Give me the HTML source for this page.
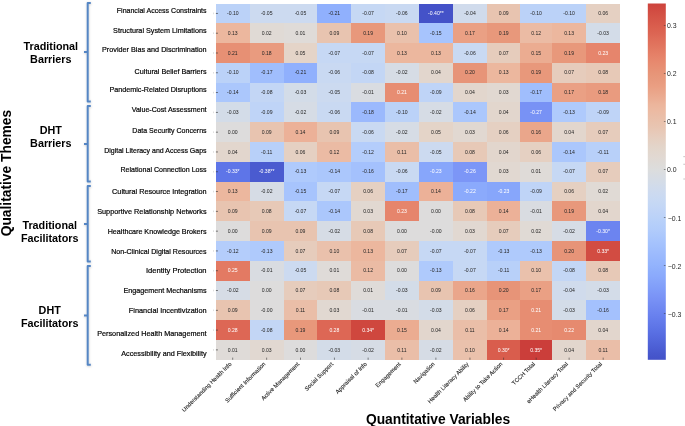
<!DOCTYPE html>
<html><head><meta charset="utf-8"><style>
html,body{margin:0;padding:0;background:#fff;width:685px;height:426px;overflow:hidden}
svg{display:block;will-change:transform}
text{font-family:"Liberation Sans",sans-serif}
</style></head><body>
<svg width="685" height="426" viewBox="0 0 685 426">
<defs>
<linearGradient id="cb" x1="0" y1="1" x2="0" y2="0">
<stop offset="0.0000" stop-color="#4452c8"/>
<stop offset="0.0167" stop-color="#4757cd"/>
<stop offset="0.0333" stop-color="#4c5ed4"/>
<stop offset="0.0500" stop-color="#5165da"/>
<stop offset="0.0667" stop-color="#566be0"/>
<stop offset="0.0833" stop-color="#5b72e5"/>
<stop offset="0.1000" stop-color="#6178e9"/>
<stop offset="0.1167" stop-color="#667eed"/>
<stop offset="0.1333" stop-color="#6c84f0"/>
<stop offset="0.1500" stop-color="#718af2"/>
<stop offset="0.1667" stop-color="#7790f5"/>
<stop offset="0.1833" stop-color="#7c96f7"/>
<stop offset="0.2000" stop-color="#809df9"/>
<stop offset="0.2167" stop-color="#85a3fa"/>
<stop offset="0.2333" stop-color="#8aa9fc"/>
<stop offset="0.2500" stop-color="#8eaefc"/>
<stop offset="0.2667" stop-color="#93b3fd"/>
<stop offset="0.2833" stop-color="#98b7fd"/>
<stop offset="0.3000" stop-color="#9dbbfd"/>
<stop offset="0.3167" stop-color="#a2c0fd"/>
<stop offset="0.3333" stop-color="#a7c4fd"/>
<stop offset="0.3500" stop-color="#acc8fc"/>
<stop offset="0.3667" stop-color="#b2ccfb"/>
<stop offset="0.3833" stop-color="#b6cffa"/>
<stop offset="0.4000" stop-color="#bbd2f8"/>
<stop offset="0.4167" stop-color="#c0d4f7"/>
<stop offset="0.4333" stop-color="#c4d7f5"/>
<stop offset="0.4500" stop-color="#c8d9f3"/>
<stop offset="0.4667" stop-color="#ccdaf0"/>
<stop offset="0.4833" stop-color="#d0dbec"/>
<stop offset="0.5000" stop-color="#d4dce7"/>
<stop offset="0.5167" stop-color="#d8dce2"/>
<stop offset="0.5333" stop-color="#dcdddd"/>
<stop offset="0.5500" stop-color="#dedbd8"/>
<stop offset="0.5667" stop-color="#e1d9d3"/>
<stop offset="0.5833" stop-color="#e2d7ce"/>
<stop offset="0.6000" stop-color="#e3d4c9"/>
<stop offset="0.6167" stop-color="#e5d0c2"/>
<stop offset="0.6333" stop-color="#e7cbbb"/>
<stop offset="0.6500" stop-color="#e8c6b3"/>
<stop offset="0.6667" stop-color="#e9c2ad"/>
<stop offset="0.6833" stop-color="#eabea8"/>
<stop offset="0.7000" stop-color="#ecbaa2"/>
<stop offset="0.7167" stop-color="#ecb59c"/>
<stop offset="0.7333" stop-color="#ebad93"/>
<stop offset="0.7500" stop-color="#eaa68b"/>
<stop offset="0.7667" stop-color="#ea9f83"/>
<stop offset="0.7833" stop-color="#e89a7e"/>
<stop offset="0.8000" stop-color="#e79679"/>
<stop offset="0.8167" stop-color="#e79074"/>
<stop offset="0.8333" stop-color="#e78a6f"/>
<stop offset="0.8500" stop-color="#e6836a"/>
<stop offset="0.8667" stop-color="#e47c64"/>
<stop offset="0.8833" stop-color="#e1745e"/>
<stop offset="0.9000" stop-color="#df6d59"/>
<stop offset="0.9167" stop-color="#dc6553"/>
<stop offset="0.9333" stop-color="#da5f4e"/>
<stop offset="0.9500" stop-color="#d7584a"/>
<stop offset="0.9667" stop-color="#d45245"/>
<stop offset="0.9833" stop-color="#d14a41"/>
<stop offset="1.0000" stop-color="#cd433c"/>
</linearGradient>
<filter id="sh" x="-50%" y="-10%" width="200%" height="120%"><feDropShadow dx="0.2" dy="0.6" stdDeviation="0.9" flood-color="#000" flood-opacity="0.22"/></filter>
</defs>
<g shape-rendering="crispEdges">
<rect x="215.60" y="3.50" width="34.70" height="20.19" fill="#bbd2f8"/>
<rect x="249.90" y="3.50" width="34.00" height="20.19" fill="#ccdaf0"/>
<rect x="283.50" y="3.50" width="34.30" height="20.19" fill="#ccdaf0"/>
<rect x="317.40" y="3.50" width="34.30" height="20.19" fill="#90b0fd"/>
<rect x="351.30" y="3.50" width="34.00" height="20.19" fill="#c6d8f4"/>
<rect x="384.90" y="3.50" width="34.40" height="20.19" fill="#c9d9f2"/>
<rect x="418.90" y="3.50" width="34.40" height="20.19" fill="#4452c8"/>
<rect x="452.90" y="3.50" width="34.50" height="20.19" fill="#d0dbec"/>
<rect x="487.00" y="3.50" width="33.70" height="20.19" fill="#e8c4b0"/>
<rect x="520.30" y="3.50" width="32.10" height="20.19" fill="#bbd2f8"/>
<rect x="552.00" y="3.50" width="34.60" height="20.19" fill="#bbd2f8"/>
<rect x="586.20" y="3.50" width="33.90" height="20.19" fill="#e5d0c2"/>
<rect x="215.60" y="23.29" width="34.70" height="20.19" fill="#ecb79e"/>
<rect x="249.90" y="23.29" width="34.00" height="20.19" fill="#e0dad5"/>
<rect x="283.50" y="23.29" width="34.30" height="20.19" fill="#dfdbd8"/>
<rect x="317.40" y="23.29" width="34.30" height="20.19" fill="#e8c4b0"/>
<rect x="351.30" y="23.29" width="34.00" height="20.19" fill="#e8987b"/>
<rect x="384.90" y="23.29" width="34.40" height="20.19" fill="#eac1ac"/>
<rect x="418.90" y="23.29" width="34.40" height="20.19" fill="#a7c4fd"/>
<rect x="452.90" y="23.29" width="34.50" height="20.19" fill="#eaa084"/>
<rect x="487.00" y="23.29" width="33.70" height="20.19" fill="#e8987b"/>
<rect x="520.30" y="23.29" width="32.10" height="20.19" fill="#ebbba4"/>
<rect x="552.00" y="23.29" width="34.60" height="20.19" fill="#ecb79e"/>
<rect x="586.20" y="23.29" width="33.90" height="20.19" fill="#d3dce8"/>
<rect x="215.60" y="43.09" width="34.70" height="20.19" fill="#e79074"/>
<rect x="249.90" y="43.09" width="34.00" height="20.19" fill="#e99b7f"/>
<rect x="283.50" y="43.09" width="34.30" height="20.19" fill="#e4d4c8"/>
<rect x="317.40" y="43.09" width="34.30" height="20.19" fill="#c6d8f4"/>
<rect x="351.30" y="43.09" width="34.00" height="20.19" fill="#c6d8f4"/>
<rect x="384.90" y="43.09" width="34.40" height="20.19" fill="#ecb79e"/>
<rect x="418.90" y="43.09" width="34.40" height="20.19" fill="#ecb79e"/>
<rect x="452.90" y="43.09" width="34.50" height="20.19" fill="#c9d9f2"/>
<rect x="487.00" y="43.09" width="33.70" height="20.19" fill="#e6ccbc"/>
<rect x="520.30" y="43.09" width="32.10" height="20.19" fill="#ebac91"/>
<rect x="552.00" y="43.09" width="34.60" height="20.19" fill="#e8987b"/>
<rect x="586.20" y="43.09" width="33.90" height="20.19" fill="#e6856c"/>
<rect x="215.60" y="62.88" width="34.70" height="20.19" fill="#bbd2f8"/>
<rect x="249.90" y="62.88" width="34.00" height="20.19" fill="#a0befd"/>
<rect x="283.50" y="62.88" width="34.30" height="20.19" fill="#90b0fd"/>
<rect x="317.40" y="62.88" width="34.30" height="20.19" fill="#c9d9f2"/>
<rect x="351.30" y="62.88" width="34.00" height="20.19" fill="#c3d6f5"/>
<rect x="384.90" y="62.88" width="34.40" height="20.19" fill="#d6dce5"/>
<rect x="418.90" y="62.88" width="34.40" height="20.19" fill="#e2d6cd"/>
<rect x="452.90" y="62.88" width="34.50" height="20.19" fill="#e79478"/>
<rect x="487.00" y="62.88" width="33.70" height="20.19" fill="#ecb79e"/>
<rect x="520.30" y="62.88" width="32.10" height="20.19" fill="#e8987b"/>
<rect x="552.00" y="62.88" width="34.60" height="20.19" fill="#e6ccbc"/>
<rect x="586.20" y="62.88" width="33.90" height="20.19" fill="#e7c9b7"/>
<rect x="215.60" y="82.68" width="34.70" height="20.19" fill="#abc7fc"/>
<rect x="249.90" y="82.68" width="34.00" height="20.19" fill="#c3d6f5"/>
<rect x="283.50" y="82.68" width="34.30" height="20.19" fill="#d3dce8"/>
<rect x="317.40" y="82.68" width="34.30" height="20.19" fill="#ccdaf0"/>
<rect x="351.30" y="82.68" width="34.00" height="20.19" fill="#d9dce1"/>
<rect x="384.90" y="82.68" width="34.40" height="20.19" fill="#e78d72"/>
<rect x="418.90" y="82.68" width="34.40" height="20.19" fill="#bfd4f7"/>
<rect x="452.90" y="82.68" width="34.50" height="20.19" fill="#e2d6cd"/>
<rect x="487.00" y="82.68" width="33.70" height="20.19" fill="#e1d8d1"/>
<rect x="520.30" y="82.68" width="32.10" height="20.19" fill="#a0befd"/>
<rect x="552.00" y="82.68" width="34.60" height="20.19" fill="#eaa084"/>
<rect x="586.20" y="82.68" width="33.90" height="20.19" fill="#e99b7f"/>
<rect x="215.60" y="102.47" width="34.70" height="20.19" fill="#d3dce8"/>
<rect x="249.90" y="102.47" width="34.00" height="20.19" fill="#bfd4f7"/>
<rect x="283.50" y="102.47" width="34.30" height="20.19" fill="#d6dce5"/>
<rect x="317.40" y="102.47" width="34.30" height="20.19" fill="#c9d9f2"/>
<rect x="351.30" y="102.47" width="34.00" height="20.19" fill="#9bb9fd"/>
<rect x="384.90" y="102.47" width="34.40" height="20.19" fill="#bbd2f8"/>
<rect x="418.90" y="102.47" width="34.40" height="20.19" fill="#d6dce5"/>
<rect x="452.90" y="102.47" width="34.50" height="20.19" fill="#abc7fc"/>
<rect x="487.00" y="102.47" width="33.70" height="20.19" fill="#e2d6cd"/>
<rect x="520.30" y="102.47" width="32.10" height="20.19" fill="#7892f5"/>
<rect x="552.00" y="102.47" width="34.60" height="20.19" fill="#afcafc"/>
<rect x="586.20" y="102.47" width="33.90" height="20.19" fill="#bfd4f7"/>
<rect x="215.60" y="122.27" width="34.70" height="20.19" fill="#dddcdc"/>
<rect x="249.90" y="122.27" width="34.00" height="20.19" fill="#e8c4b0"/>
<rect x="283.50" y="122.27" width="34.30" height="20.19" fill="#ecb198"/>
<rect x="317.40" y="122.27" width="34.30" height="20.19" fill="#e8c4b0"/>
<rect x="351.30" y="122.27" width="34.00" height="20.19" fill="#c9d9f2"/>
<rect x="384.90" y="122.27" width="34.40" height="20.19" fill="#d6dce5"/>
<rect x="418.90" y="122.27" width="34.40" height="20.19" fill="#e4d4c8"/>
<rect x="452.90" y="122.27" width="34.50" height="20.19" fill="#e1d8d1"/>
<rect x="487.00" y="122.27" width="33.70" height="20.19" fill="#e5d0c2"/>
<rect x="520.30" y="122.27" width="32.10" height="20.19" fill="#eaa68b"/>
<rect x="552.00" y="122.27" width="34.60" height="20.19" fill="#e2d6cd"/>
<rect x="586.20" y="122.27" width="33.90" height="20.19" fill="#e6ccbc"/>
<rect x="215.60" y="142.06" width="34.70" height="20.19" fill="#e2d6cd"/>
<rect x="249.90" y="142.06" width="34.00" height="20.19" fill="#b8d0f9"/>
<rect x="283.50" y="142.06" width="34.30" height="20.19" fill="#e5d0c2"/>
<rect x="317.40" y="142.06" width="34.30" height="20.19" fill="#ebbba4"/>
<rect x="351.30" y="142.06" width="34.00" height="20.19" fill="#b4cdfb"/>
<rect x="384.90" y="142.06" width="34.40" height="20.19" fill="#eabea8"/>
<rect x="418.90" y="142.06" width="34.40" height="20.19" fill="#ccdaf0"/>
<rect x="452.90" y="142.06" width="34.50" height="20.19" fill="#e7c9b7"/>
<rect x="487.00" y="142.06" width="33.70" height="20.19" fill="#e2d6cd"/>
<rect x="520.30" y="142.06" width="32.10" height="20.19" fill="#e5d0c2"/>
<rect x="552.00" y="142.06" width="34.60" height="20.19" fill="#abc7fc"/>
<rect x="586.20" y="142.06" width="33.90" height="20.19" fill="#b8d0f9"/>
<rect x="215.60" y="161.86" width="34.70" height="20.19" fill="#5e75e8"/>
<rect x="249.90" y="161.86" width="34.00" height="20.19" fill="#4a5bd0"/>
<rect x="283.50" y="161.86" width="34.30" height="20.19" fill="#afcafc"/>
<rect x="317.40" y="161.86" width="34.30" height="20.19" fill="#abc7fc"/>
<rect x="351.30" y="161.86" width="34.00" height="20.19" fill="#a4c1fd"/>
<rect x="384.90" y="161.86" width="34.40" height="20.19" fill="#c9d9f2"/>
<rect x="418.90" y="161.86" width="34.40" height="20.19" fill="#87a6fb"/>
<rect x="452.90" y="161.86" width="34.50" height="20.19" fill="#7c96f7"/>
<rect x="487.00" y="161.86" width="33.70" height="20.19" fill="#e1d8d1"/>
<rect x="520.30" y="161.86" width="32.10" height="20.19" fill="#dfdbd8"/>
<rect x="552.00" y="161.86" width="34.60" height="20.19" fill="#c6d8f4"/>
<rect x="586.20" y="161.86" width="33.90" height="20.19" fill="#e6ccbc"/>
<rect x="215.60" y="181.65" width="34.70" height="20.19" fill="#ecb79e"/>
<rect x="249.90" y="181.65" width="34.00" height="20.19" fill="#d6dce5"/>
<rect x="283.50" y="181.65" width="34.30" height="20.19" fill="#a7c4fd"/>
<rect x="317.40" y="181.65" width="34.30" height="20.19" fill="#c6d8f4"/>
<rect x="351.30" y="181.65" width="34.00" height="20.19" fill="#e5d0c2"/>
<rect x="384.90" y="181.65" width="34.40" height="20.19" fill="#a0befd"/>
<rect x="418.90" y="181.65" width="34.40" height="20.19" fill="#ecb198"/>
<rect x="452.90" y="181.65" width="34.50" height="20.19" fill="#8baafc"/>
<rect x="487.00" y="181.65" width="33.70" height="20.19" fill="#87a6fb"/>
<rect x="520.30" y="181.65" width="32.10" height="20.19" fill="#bfd4f7"/>
<rect x="552.00" y="181.65" width="34.60" height="20.19" fill="#e5d0c2"/>
<rect x="586.20" y="181.65" width="33.90" height="20.19" fill="#e0dad5"/>
<rect x="215.60" y="201.44" width="34.70" height="20.19" fill="#e8c4b0"/>
<rect x="249.90" y="201.44" width="34.00" height="20.19" fill="#e7c9b7"/>
<rect x="283.50" y="201.44" width="34.30" height="20.19" fill="#c6d8f4"/>
<rect x="317.40" y="201.44" width="34.30" height="20.19" fill="#abc7fc"/>
<rect x="351.30" y="201.44" width="34.00" height="20.19" fill="#e1d8d1"/>
<rect x="384.90" y="201.44" width="34.40" height="20.19" fill="#e6856c"/>
<rect x="418.90" y="201.44" width="34.40" height="20.19" fill="#dddcdc"/>
<rect x="452.90" y="201.44" width="34.50" height="20.19" fill="#e7c9b7"/>
<rect x="487.00" y="201.44" width="33.70" height="20.19" fill="#ecb198"/>
<rect x="520.30" y="201.44" width="32.10" height="20.19" fill="#d9dce1"/>
<rect x="552.00" y="201.44" width="34.60" height="20.19" fill="#e8987b"/>
<rect x="586.20" y="201.44" width="33.90" height="20.19" fill="#e2d6cd"/>
<rect x="215.60" y="221.24" width="34.70" height="20.19" fill="#dddcdc"/>
<rect x="249.90" y="221.24" width="34.00" height="20.19" fill="#e8c4b0"/>
<rect x="283.50" y="221.24" width="34.30" height="20.19" fill="#e8c4b0"/>
<rect x="317.40" y="221.24" width="34.30" height="20.19" fill="#d6dce5"/>
<rect x="351.30" y="221.24" width="34.00" height="20.19" fill="#e7c9b7"/>
<rect x="384.90" y="221.24" width="34.40" height="20.19" fill="#dddcdc"/>
<rect x="418.90" y="221.24" width="34.40" height="20.19" fill="#dddcdc"/>
<rect x="452.90" y="221.24" width="34.50" height="20.19" fill="#e1d8d1"/>
<rect x="487.00" y="221.24" width="33.70" height="20.19" fill="#e6ccbc"/>
<rect x="520.30" y="221.24" width="32.10" height="20.19" fill="#e0dad5"/>
<rect x="552.00" y="221.24" width="34.60" height="20.19" fill="#d6dce5"/>
<rect x="586.20" y="221.24" width="33.90" height="20.19" fill="#6c84f0"/>
<rect x="215.60" y="241.03" width="34.70" height="20.19" fill="#b4cdfb"/>
<rect x="249.90" y="241.03" width="34.00" height="20.19" fill="#afcafc"/>
<rect x="283.50" y="241.03" width="34.30" height="20.19" fill="#e6ccbc"/>
<rect x="317.40" y="241.03" width="34.30" height="20.19" fill="#eac1ac"/>
<rect x="351.30" y="241.03" width="34.00" height="20.19" fill="#ecb79e"/>
<rect x="384.90" y="241.03" width="34.40" height="20.19" fill="#e6ccbc"/>
<rect x="418.90" y="241.03" width="34.40" height="20.19" fill="#c6d8f4"/>
<rect x="452.90" y="241.03" width="34.50" height="20.19" fill="#c6d8f4"/>
<rect x="487.00" y="241.03" width="33.70" height="20.19" fill="#afcafc"/>
<rect x="520.30" y="241.03" width="32.10" height="20.19" fill="#afcafc"/>
<rect x="552.00" y="241.03" width="34.60" height="20.19" fill="#e79478"/>
<rect x="586.20" y="241.03" width="33.90" height="20.19" fill="#d24c42"/>
<rect x="215.60" y="260.83" width="34.70" height="20.19" fill="#e37a63"/>
<rect x="249.90" y="260.83" width="34.00" height="20.19" fill="#d9dce1"/>
<rect x="283.50" y="260.83" width="34.30" height="20.19" fill="#ccdaf0"/>
<rect x="317.40" y="260.83" width="34.30" height="20.19" fill="#dfdbd8"/>
<rect x="351.30" y="260.83" width="34.00" height="20.19" fill="#ebbba4"/>
<rect x="384.90" y="260.83" width="34.40" height="20.19" fill="#dddcdc"/>
<rect x="418.90" y="260.83" width="34.40" height="20.19" fill="#afcafc"/>
<rect x="452.90" y="260.83" width="34.50" height="20.19" fill="#c6d8f4"/>
<rect x="487.00" y="260.83" width="33.70" height="20.19" fill="#b8d0f9"/>
<rect x="520.30" y="260.83" width="32.10" height="20.19" fill="#eac1ac"/>
<rect x="552.00" y="260.83" width="34.60" height="20.19" fill="#c3d6f5"/>
<rect x="586.20" y="260.83" width="33.90" height="20.19" fill="#e7c9b7"/>
<rect x="215.60" y="280.62" width="34.70" height="20.19" fill="#d6dce5"/>
<rect x="249.90" y="280.62" width="34.00" height="20.19" fill="#dddcdc"/>
<rect x="283.50" y="280.62" width="34.30" height="20.19" fill="#e6ccbc"/>
<rect x="317.40" y="280.62" width="34.30" height="20.19" fill="#e7c9b7"/>
<rect x="351.30" y="280.62" width="34.00" height="20.19" fill="#dfdbd8"/>
<rect x="384.90" y="280.62" width="34.40" height="20.19" fill="#d3dce8"/>
<rect x="418.90" y="280.62" width="34.40" height="20.19" fill="#e8c4b0"/>
<rect x="452.90" y="280.62" width="34.50" height="20.19" fill="#eaa68b"/>
<rect x="487.00" y="280.62" width="33.70" height="20.19" fill="#e79478"/>
<rect x="520.30" y="280.62" width="32.10" height="20.19" fill="#eaa084"/>
<rect x="552.00" y="280.62" width="34.60" height="20.19" fill="#d0dbec"/>
<rect x="586.20" y="280.62" width="33.90" height="20.19" fill="#d3dce8"/>
<rect x="215.60" y="300.42" width="34.70" height="20.19" fill="#e8c4b0"/>
<rect x="249.90" y="300.42" width="34.00" height="20.19" fill="#dddcdc"/>
<rect x="283.50" y="300.42" width="34.30" height="20.19" fill="#eabea8"/>
<rect x="317.40" y="300.42" width="34.30" height="20.19" fill="#e1d8d1"/>
<rect x="351.30" y="300.42" width="34.00" height="20.19" fill="#d9dce1"/>
<rect x="384.90" y="300.42" width="34.40" height="20.19" fill="#d9dce1"/>
<rect x="418.90" y="300.42" width="34.40" height="20.19" fill="#d3dce8"/>
<rect x="452.90" y="300.42" width="34.50" height="20.19" fill="#e5d0c2"/>
<rect x="487.00" y="300.42" width="33.70" height="20.19" fill="#eaa084"/>
<rect x="520.30" y="300.42" width="32.10" height="20.19" fill="#e78d72"/>
<rect x="552.00" y="300.42" width="34.60" height="20.19" fill="#d3dce8"/>
<rect x="586.20" y="300.42" width="33.90" height="20.19" fill="#a4c1fd"/>
<rect x="215.60" y="320.21" width="34.70" height="20.19" fill="#dd6755"/>
<rect x="249.90" y="320.21" width="34.00" height="20.19" fill="#c3d6f5"/>
<rect x="283.50" y="320.21" width="34.30" height="20.19" fill="#e8987b"/>
<rect x="317.40" y="320.21" width="34.30" height="20.19" fill="#dd6755"/>
<rect x="351.30" y="320.21" width="34.00" height="20.19" fill="#cf473e"/>
<rect x="384.90" y="320.21" width="34.40" height="20.19" fill="#ebac91"/>
<rect x="418.90" y="320.21" width="34.40" height="20.19" fill="#e2d6cd"/>
<rect x="452.90" y="320.21" width="34.50" height="20.19" fill="#eabea8"/>
<rect x="487.00" y="320.21" width="33.70" height="20.19" fill="#ecb198"/>
<rect x="520.30" y="320.21" width="32.10" height="20.19" fill="#e78d72"/>
<rect x="552.00" y="320.21" width="34.60" height="20.19" fill="#e68a6f"/>
<rect x="586.20" y="320.21" width="33.90" height="20.19" fill="#e2d6cd"/>
<rect x="215.60" y="340.01" width="34.70" height="19.79" fill="#dfdbd8"/>
<rect x="249.90" y="340.01" width="34.00" height="19.79" fill="#e1d8d1"/>
<rect x="283.50" y="340.01" width="34.30" height="19.79" fill="#dddcdc"/>
<rect x="317.40" y="340.01" width="34.30" height="19.79" fill="#d3dce8"/>
<rect x="351.30" y="340.01" width="34.00" height="19.79" fill="#d6dce5"/>
<rect x="384.90" y="340.01" width="34.40" height="19.79" fill="#eabea8"/>
<rect x="418.90" y="340.01" width="34.40" height="19.79" fill="#d6dce5"/>
<rect x="452.90" y="340.01" width="34.50" height="19.79" fill="#eac1ac"/>
<rect x="487.00" y="340.01" width="33.70" height="19.79" fill="#d95d4d"/>
<rect x="520.30" y="340.01" width="32.10" height="19.79" fill="#cb3e3a"/>
<rect x="552.00" y="340.01" width="34.60" height="19.79" fill="#e2d6cd"/>
<rect x="586.20" y="340.01" width="33.90" height="19.79" fill="#eabea8"/>
</g>
<g font-size="5.1" text-anchor="middle">
<text x="232.75" y="15.00" fill="#262626">-0.10</text>
<text x="266.70" y="15.00" fill="#262626">-0.05</text>
<text x="300.45" y="15.00" fill="#262626">-0.05</text>
<text x="334.35" y="15.00" fill="#262626">-0.21</text>
<text x="368.10" y="15.00" fill="#262626">-0.07</text>
<text x="401.90" y="15.00" fill="#262626">-0.06</text>
<text x="435.90" y="15.00" fill="#ffffff">-0.40**</text>
<text x="469.95" y="15.00" fill="#262626">-0.04</text>
<text x="503.65" y="15.00" fill="#262626">0.09</text>
<text x="536.15" y="15.00" fill="#262626">-0.10</text>
<text x="569.10" y="15.00" fill="#262626">-0.10</text>
<text x="603.15" y="15.00" fill="#262626">0.06</text>
<text x="232.75" y="34.79" fill="#262626">0.13</text>
<text x="266.70" y="34.79" fill="#262626">0.02</text>
<text x="300.45" y="34.79" fill="#262626">0.01</text>
<text x="334.35" y="34.79" fill="#262626">0.09</text>
<text x="368.10" y="34.79" fill="#262626">0.19</text>
<text x="401.90" y="34.79" fill="#262626">0.10</text>
<text x="435.90" y="34.79" fill="#262626">-0.15</text>
<text x="469.95" y="34.79" fill="#262626">0.17</text>
<text x="503.65" y="34.79" fill="#262626">0.19</text>
<text x="536.15" y="34.79" fill="#262626">0.12</text>
<text x="569.10" y="34.79" fill="#262626">0.13</text>
<text x="603.15" y="34.79" fill="#262626">-0.03</text>
<text x="232.75" y="54.59" fill="#262626">0.21</text>
<text x="266.70" y="54.59" fill="#262626">0.18</text>
<text x="300.45" y="54.59" fill="#262626">0.05</text>
<text x="334.35" y="54.59" fill="#262626">-0.07</text>
<text x="368.10" y="54.59" fill="#262626">-0.07</text>
<text x="401.90" y="54.59" fill="#262626">0.13</text>
<text x="435.90" y="54.59" fill="#262626">0.13</text>
<text x="469.95" y="54.59" fill="#262626">-0.06</text>
<text x="503.65" y="54.59" fill="#262626">0.07</text>
<text x="536.15" y="54.59" fill="#262626">0.15</text>
<text x="569.10" y="54.59" fill="#262626">0.19</text>
<text x="603.15" y="54.59" fill="#ffffff">0.23</text>
<text x="232.75" y="74.38" fill="#262626">-0.10</text>
<text x="266.70" y="74.38" fill="#262626">-0.17</text>
<text x="300.45" y="74.38" fill="#262626">-0.21</text>
<text x="334.35" y="74.38" fill="#262626">-0.06</text>
<text x="368.10" y="74.38" fill="#262626">-0.08</text>
<text x="401.90" y="74.38" fill="#262626">-0.02</text>
<text x="435.90" y="74.38" fill="#262626">0.04</text>
<text x="469.95" y="74.38" fill="#262626">0.20</text>
<text x="503.65" y="74.38" fill="#262626">0.13</text>
<text x="536.15" y="74.38" fill="#262626">0.19</text>
<text x="569.10" y="74.38" fill="#262626">0.07</text>
<text x="603.15" y="74.38" fill="#262626">0.08</text>
<text x="232.75" y="94.17" fill="#262626">-0.14</text>
<text x="266.70" y="94.17" fill="#262626">-0.08</text>
<text x="300.45" y="94.17" fill="#262626">-0.03</text>
<text x="334.35" y="94.17" fill="#262626">-0.05</text>
<text x="368.10" y="94.17" fill="#262626">-0.01</text>
<text x="401.90" y="94.17" fill="#ffffff">0.21</text>
<text x="435.90" y="94.17" fill="#262626">-0.09</text>
<text x="469.95" y="94.17" fill="#262626">0.04</text>
<text x="503.65" y="94.17" fill="#262626">0.03</text>
<text x="536.15" y="94.17" fill="#262626">-0.17</text>
<text x="569.10" y="94.17" fill="#262626">0.17</text>
<text x="603.15" y="94.17" fill="#262626">0.18</text>
<text x="232.75" y="113.97" fill="#262626">-0.03</text>
<text x="266.70" y="113.97" fill="#262626">-0.09</text>
<text x="300.45" y="113.97" fill="#262626">-0.02</text>
<text x="334.35" y="113.97" fill="#262626">-0.06</text>
<text x="368.10" y="113.97" fill="#262626">-0.18</text>
<text x="401.90" y="113.97" fill="#262626">-0.10</text>
<text x="435.90" y="113.97" fill="#262626">-0.02</text>
<text x="469.95" y="113.97" fill="#262626">-0.14</text>
<text x="503.65" y="113.97" fill="#262626">0.04</text>
<text x="536.15" y="113.97" fill="#ffffff">-0.27</text>
<text x="569.10" y="113.97" fill="#262626">-0.13</text>
<text x="603.15" y="113.97" fill="#262626">-0.09</text>
<text x="232.75" y="133.76" fill="#262626">0.00</text>
<text x="266.70" y="133.76" fill="#262626">0.09</text>
<text x="300.45" y="133.76" fill="#262626">0.14</text>
<text x="334.35" y="133.76" fill="#262626">0.09</text>
<text x="368.10" y="133.76" fill="#262626">-0.06</text>
<text x="401.90" y="133.76" fill="#262626">-0.02</text>
<text x="435.90" y="133.76" fill="#262626">0.05</text>
<text x="469.95" y="133.76" fill="#262626">0.03</text>
<text x="503.65" y="133.76" fill="#262626">0.06</text>
<text x="536.15" y="133.76" fill="#262626">0.16</text>
<text x="569.10" y="133.76" fill="#262626">0.04</text>
<text x="603.15" y="133.76" fill="#262626">0.07</text>
<text x="232.75" y="153.56" fill="#262626">0.04</text>
<text x="266.70" y="153.56" fill="#262626">-0.11</text>
<text x="300.45" y="153.56" fill="#262626">0.06</text>
<text x="334.35" y="153.56" fill="#262626">0.12</text>
<text x="368.10" y="153.56" fill="#262626">-0.12</text>
<text x="401.90" y="153.56" fill="#262626">0.11</text>
<text x="435.90" y="153.56" fill="#262626">-0.05</text>
<text x="469.95" y="153.56" fill="#262626">0.08</text>
<text x="503.65" y="153.56" fill="#262626">0.04</text>
<text x="536.15" y="153.56" fill="#262626">0.06</text>
<text x="569.10" y="153.56" fill="#262626">-0.14</text>
<text x="603.15" y="153.56" fill="#262626">-0.11</text>
<text x="232.75" y="173.35" fill="#ffffff">-0.33*</text>
<text x="266.70" y="173.35" fill="#ffffff">-0.38**</text>
<text x="300.45" y="173.35" fill="#262626">-0.13</text>
<text x="334.35" y="173.35" fill="#262626">-0.14</text>
<text x="368.10" y="173.35" fill="#262626">-0.16</text>
<text x="401.90" y="173.35" fill="#262626">-0.06</text>
<text x="435.90" y="173.35" fill="#ffffff">-0.23</text>
<text x="469.95" y="173.35" fill="#ffffff">-0.26</text>
<text x="503.65" y="173.35" fill="#262626">0.03</text>
<text x="536.15" y="173.35" fill="#262626">0.01</text>
<text x="569.10" y="173.35" fill="#262626">-0.07</text>
<text x="603.15" y="173.35" fill="#262626">0.07</text>
<text x="232.75" y="193.15" fill="#262626">0.13</text>
<text x="266.70" y="193.15" fill="#262626">-0.02</text>
<text x="300.45" y="193.15" fill="#262626">-0.15</text>
<text x="334.35" y="193.15" fill="#262626">-0.07</text>
<text x="368.10" y="193.15" fill="#262626">0.06</text>
<text x="401.90" y="193.15" fill="#262626">-0.17</text>
<text x="435.90" y="193.15" fill="#262626">0.14</text>
<text x="469.95" y="193.15" fill="#ffffff">-0.22</text>
<text x="503.65" y="193.15" fill="#ffffff">-0.23</text>
<text x="536.15" y="193.15" fill="#262626">-0.09</text>
<text x="569.10" y="193.15" fill="#262626">0.06</text>
<text x="603.15" y="193.15" fill="#262626">0.02</text>
<text x="232.75" y="212.94" fill="#262626">0.09</text>
<text x="266.70" y="212.94" fill="#262626">0.08</text>
<text x="300.45" y="212.94" fill="#262626">-0.07</text>
<text x="334.35" y="212.94" fill="#262626">-0.14</text>
<text x="368.10" y="212.94" fill="#262626">0.03</text>
<text x="401.90" y="212.94" fill="#ffffff">0.23</text>
<text x="435.90" y="212.94" fill="#262626">0.00</text>
<text x="469.95" y="212.94" fill="#262626">0.08</text>
<text x="503.65" y="212.94" fill="#262626">0.14</text>
<text x="536.15" y="212.94" fill="#262626">-0.01</text>
<text x="569.10" y="212.94" fill="#262626">0.19</text>
<text x="603.15" y="212.94" fill="#262626">0.04</text>
<text x="232.75" y="232.74" fill="#262626">0.00</text>
<text x="266.70" y="232.74" fill="#262626">0.09</text>
<text x="300.45" y="232.74" fill="#262626">0.09</text>
<text x="334.35" y="232.74" fill="#262626">-0.02</text>
<text x="368.10" y="232.74" fill="#262626">0.08</text>
<text x="401.90" y="232.74" fill="#262626">0.00</text>
<text x="435.90" y="232.74" fill="#262626">-0.00</text>
<text x="469.95" y="232.74" fill="#262626">0.03</text>
<text x="503.65" y="232.74" fill="#262626">0.07</text>
<text x="536.15" y="232.74" fill="#262626">0.02</text>
<text x="569.10" y="232.74" fill="#262626">-0.02</text>
<text x="603.15" y="232.74" fill="#ffffff">-0.30*</text>
<text x="232.75" y="252.53" fill="#262626">-0.12</text>
<text x="266.70" y="252.53" fill="#262626">-0.13</text>
<text x="300.45" y="252.53" fill="#262626">0.07</text>
<text x="334.35" y="252.53" fill="#262626">0.10</text>
<text x="368.10" y="252.53" fill="#262626">0.13</text>
<text x="401.90" y="252.53" fill="#262626">0.07</text>
<text x="435.90" y="252.53" fill="#262626">-0.07</text>
<text x="469.95" y="252.53" fill="#262626">-0.07</text>
<text x="503.65" y="252.53" fill="#262626">-0.13</text>
<text x="536.15" y="252.53" fill="#262626">-0.13</text>
<text x="569.10" y="252.53" fill="#262626">0.20</text>
<text x="603.15" y="252.53" fill="#ffffff">0.33*</text>
<text x="232.75" y="272.33" fill="#ffffff">0.25</text>
<text x="266.70" y="272.33" fill="#262626">-0.01</text>
<text x="300.45" y="272.33" fill="#262626">-0.05</text>
<text x="334.35" y="272.33" fill="#262626">0.01</text>
<text x="368.10" y="272.33" fill="#262626">0.12</text>
<text x="401.90" y="272.33" fill="#262626">0.00</text>
<text x="435.90" y="272.33" fill="#262626">-0.13</text>
<text x="469.95" y="272.33" fill="#262626">-0.07</text>
<text x="503.65" y="272.33" fill="#262626">-0.11</text>
<text x="536.15" y="272.33" fill="#262626">0.10</text>
<text x="569.10" y="272.33" fill="#262626">-0.08</text>
<text x="603.15" y="272.33" fill="#262626">0.08</text>
<text x="232.75" y="292.12" fill="#262626">-0.02</text>
<text x="266.70" y="292.12" fill="#262626">0.00</text>
<text x="300.45" y="292.12" fill="#262626">0.07</text>
<text x="334.35" y="292.12" fill="#262626">0.08</text>
<text x="368.10" y="292.12" fill="#262626">0.01</text>
<text x="401.90" y="292.12" fill="#262626">-0.03</text>
<text x="435.90" y="292.12" fill="#262626">0.09</text>
<text x="469.95" y="292.12" fill="#262626">0.16</text>
<text x="503.65" y="292.12" fill="#262626">0.20</text>
<text x="536.15" y="292.12" fill="#262626">0.17</text>
<text x="569.10" y="292.12" fill="#262626">-0.04</text>
<text x="603.15" y="292.12" fill="#262626">-0.03</text>
<text x="232.75" y="311.91" fill="#262626">0.09</text>
<text x="266.70" y="311.91" fill="#262626">-0.00</text>
<text x="300.45" y="311.91" fill="#262626">0.11</text>
<text x="334.35" y="311.91" fill="#262626">0.03</text>
<text x="368.10" y="311.91" fill="#262626">-0.01</text>
<text x="401.90" y="311.91" fill="#262626">-0.01</text>
<text x="435.90" y="311.91" fill="#262626">-0.03</text>
<text x="469.95" y="311.91" fill="#262626">0.06</text>
<text x="503.65" y="311.91" fill="#262626">0.17</text>
<text x="536.15" y="311.91" fill="#ffffff">0.21</text>
<text x="569.10" y="311.91" fill="#262626">-0.03</text>
<text x="603.15" y="311.91" fill="#262626">-0.16</text>
<text x="232.75" y="331.71" fill="#ffffff">0.28</text>
<text x="266.70" y="331.71" fill="#262626">-0.08</text>
<text x="300.45" y="331.71" fill="#262626">0.19</text>
<text x="334.35" y="331.71" fill="#ffffff">0.28</text>
<text x="368.10" y="331.71" fill="#ffffff">0.34*</text>
<text x="401.90" y="331.71" fill="#262626">0.15</text>
<text x="435.90" y="331.71" fill="#262626">0.04</text>
<text x="469.95" y="331.71" fill="#262626">0.11</text>
<text x="503.65" y="331.71" fill="#262626">0.14</text>
<text x="536.15" y="331.71" fill="#ffffff">0.21</text>
<text x="569.10" y="331.71" fill="#ffffff">0.22</text>
<text x="603.15" y="331.71" fill="#262626">0.04</text>
<text x="232.75" y="351.50" fill="#262626">0.01</text>
<text x="266.70" y="351.50" fill="#262626">0.03</text>
<text x="300.45" y="351.50" fill="#262626">0.00</text>
<text x="334.35" y="351.50" fill="#262626">-0.03</text>
<text x="368.10" y="351.50" fill="#262626">-0.02</text>
<text x="401.90" y="351.50" fill="#262626">0.11</text>
<text x="435.90" y="351.50" fill="#262626">-0.02</text>
<text x="469.95" y="351.50" fill="#262626">0.10</text>
<text x="503.65" y="351.50" fill="#ffffff">0.30*</text>
<text x="536.15" y="351.50" fill="#ffffff">0.35*</text>
<text x="569.10" y="351.50" fill="#262626">0.04</text>
<text x="603.15" y="351.50" fill="#262626">0.11</text>
</g>
<g>
<rect x="215.90" y="12.95" width="2.0" height="0.9" fill="#333" opacity="0.7"/>
<rect x="213" y="12.60" width="0.8" height="1.6" fill="#bbb" opacity="0.6"/>
<rect x="215.90" y="32.74" width="2.0" height="0.9" fill="#333" opacity="0.7"/>
<rect x="213" y="32.39" width="0.8" height="1.6" fill="#bbb" opacity="0.6"/>
<rect x="215.90" y="52.54" width="2.0" height="0.9" fill="#333" opacity="0.7"/>
<rect x="213" y="52.19" width="0.8" height="1.6" fill="#bbb" opacity="0.6"/>
<rect x="215.90" y="72.33" width="2.0" height="0.9" fill="#333" opacity="0.7"/>
<rect x="213" y="71.98" width="0.8" height="1.6" fill="#bbb" opacity="0.6"/>
<rect x="215.90" y="92.12" width="2.0" height="0.9" fill="#333" opacity="0.7"/>
<rect x="213" y="91.78" width="0.8" height="1.6" fill="#bbb" opacity="0.6"/>
<rect x="215.90" y="111.92" width="2.0" height="0.9" fill="#333" opacity="0.7"/>
<rect x="213" y="111.57" width="0.8" height="1.6" fill="#bbb" opacity="0.6"/>
<rect x="215.90" y="131.71" width="2.0" height="0.9" fill="#333" opacity="0.7"/>
<rect x="213" y="131.36" width="0.8" height="1.6" fill="#bbb" opacity="0.6"/>
<rect x="215.90" y="151.51" width="2.0" height="0.9" fill="#333" opacity="0.7"/>
<rect x="213" y="151.16" width="0.8" height="1.6" fill="#bbb" opacity="0.6"/>
<rect x="215.90" y="171.30" width="2.0" height="0.9" fill="#333" opacity="0.7"/>
<rect x="213" y="170.95" width="0.8" height="1.6" fill="#bbb" opacity="0.6"/>
<rect x="215.90" y="191.10" width="2.0" height="0.9" fill="#333" opacity="0.7"/>
<rect x="213" y="190.75" width="0.8" height="1.6" fill="#bbb" opacity="0.6"/>
<rect x="215.90" y="210.89" width="2.0" height="0.9" fill="#333" opacity="0.7"/>
<rect x="213" y="210.54" width="0.8" height="1.6" fill="#bbb" opacity="0.6"/>
<rect x="215.90" y="230.69" width="2.0" height="0.9" fill="#333" opacity="0.7"/>
<rect x="213" y="230.34" width="0.8" height="1.6" fill="#bbb" opacity="0.6"/>
<rect x="215.90" y="250.48" width="2.0" height="0.9" fill="#333" opacity="0.7"/>
<rect x="213" y="250.13" width="0.8" height="1.6" fill="#bbb" opacity="0.6"/>
<rect x="215.90" y="270.28" width="2.0" height="0.9" fill="#333" opacity="0.7"/>
<rect x="213" y="269.93" width="0.8" height="1.6" fill="#bbb" opacity="0.6"/>
<rect x="215.90" y="290.07" width="2.0" height="0.9" fill="#333" opacity="0.7"/>
<rect x="213" y="289.72" width="0.8" height="1.6" fill="#bbb" opacity="0.6"/>
<rect x="215.90" y="309.86" width="2.0" height="0.9" fill="#333" opacity="0.7"/>
<rect x="213" y="309.51" width="0.8" height="1.6" fill="#bbb" opacity="0.6"/>
<rect x="215.90" y="329.66" width="2.0" height="0.9" fill="#333" opacity="0.7"/>
<rect x="213" y="329.31" width="0.8" height="1.6" fill="#bbb" opacity="0.6"/>
<rect x="215.90" y="349.45" width="2.0" height="0.9" fill="#333" opacity="0.7"/>
<rect x="213" y="349.10" width="0.8" height="1.6" fill="#bbb" opacity="0.6"/>
<rect x="232.35" y="357.60" width="0.8" height="2.2" fill="#333" opacity="0.7"/>
<rect x="266.30" y="357.60" width="0.8" height="2.2" fill="#333" opacity="0.7"/>
<rect x="300.05" y="357.60" width="0.8" height="2.2" fill="#333" opacity="0.7"/>
<rect x="333.95" y="357.60" width="0.8" height="2.2" fill="#333" opacity="0.7"/>
<rect x="367.70" y="357.60" width="0.8" height="2.2" fill="#333" opacity="0.7"/>
<rect x="401.50" y="357.60" width="0.8" height="2.2" fill="#333" opacity="0.7"/>
<rect x="435.50" y="357.60" width="0.8" height="2.2" fill="#333" opacity="0.7"/>
<rect x="469.55" y="357.60" width="0.8" height="2.2" fill="#333" opacity="0.7"/>
<rect x="503.25" y="357.60" width="0.8" height="2.2" fill="#333" opacity="0.7"/>
<rect x="535.75" y="357.60" width="0.8" height="2.2" fill="#333" opacity="0.7"/>
<rect x="568.70" y="357.60" width="0.8" height="2.2" fill="#333" opacity="0.7"/>
<rect x="602.75" y="357.60" width="0.8" height="2.2" fill="#333" opacity="0.7"/>
</g>
<g font-size="7.7" text-anchor="end" fill="#000" stroke="#000" stroke-width="0.2">
<text x="206.6" y="12.8" textLength="89.8" lengthAdjust="spacingAndGlyphs">Financial Access Constraints</text>
<text x="206.6" y="32.9" textLength="93.5" lengthAdjust="spacingAndGlyphs">Structural System Limitations</text>
<text x="206.6" y="52.3" textLength="104.6" lengthAdjust="spacingAndGlyphs">Provider Bias and Discrimination</text>
<text x="206.6" y="74.2" textLength="72.0" lengthAdjust="spacingAndGlyphs">Cultural Belief Barriers</text>
<text x="206.6" y="92.2" textLength="97.1" lengthAdjust="spacingAndGlyphs">Pandemic-Related Disruptions</text>
<text x="206.6" y="111.7" textLength="74.9" lengthAdjust="spacingAndGlyphs">Value-Cost Assessment</text>
<text x="206.6" y="132.9" textLength="74.3" lengthAdjust="spacingAndGlyphs">Data Security Concerns</text>
<text x="206.6" y="152.6" textLength="102.4" lengthAdjust="spacingAndGlyphs">Digital Literacy and Access Gaps</text>
<text x="206.6" y="172.3" textLength="86.1" lengthAdjust="spacingAndGlyphs">Relational Connection Loss</text>
<text x="206.6" y="194.2" textLength="94.5" lengthAdjust="spacingAndGlyphs">Cultural Resource Integration</text>
<text x="206.6" y="214.3" textLength="109.4" lengthAdjust="spacingAndGlyphs">Supportive Relationship Networks</text>
<text x="206.6" y="234.4" textLength="98.9" lengthAdjust="spacingAndGlyphs">Healthcare Knowledge Brokers</text>
<text x="206.6" y="254.2" textLength="95.4" lengthAdjust="spacingAndGlyphs">Non-Clinical Digital Resources</text>
<text x="206.6" y="272.9" textLength="60.7" lengthAdjust="spacingAndGlyphs">Identity Protection</text>
<text x="206.6" y="293.1" textLength="83.1" lengthAdjust="spacingAndGlyphs">Engagement Mechanisms</text>
<text x="206.6" y="313.3" textLength="77.8" lengthAdjust="spacingAndGlyphs">Financial Incentivization</text>
<text x="206.6" y="336.4" textLength="109.4" lengthAdjust="spacingAndGlyphs">Personalized Health Management</text>
<text x="206.6" y="355.8" textLength="85.4" lengthAdjust="spacingAndGlyphs">Accessibility and Flexibility</text>
</g>
<g font-size="5.8" text-anchor="end" fill="#1e1e1e" stroke="#1e1e1e" stroke-width="0.1">
<text x="231.95" y="364.50" transform="rotate(-45 231.95 364.50)">Understanding Health Info</text>
<text x="265.90" y="364.50" transform="rotate(-45 265.90 364.50)">Sufficient Information</text>
<text x="299.65" y="364.50" transform="rotate(-45 299.65 364.50)">Active Management</text>
<text x="333.55" y="364.50" transform="rotate(-45 333.55 364.50)">Social Support</text>
<text x="367.30" y="364.50" transform="rotate(-45 367.30 364.50)">Appraisal of Info</text>
<text x="401.10" y="364.50" transform="rotate(-45 401.10 364.50)">Engagement</text>
<text x="435.10" y="364.50" transform="rotate(-45 435.10 364.50)">Navigation</text>
<text x="469.15" y="364.50" transform="rotate(-45 469.15 364.50)">Health Literacy Ability</text>
<text x="502.85" y="364.50" transform="rotate(-45 502.85 364.50)">Ability to Take Action</text>
<text x="535.35" y="364.50" transform="rotate(-45 535.35 364.50)">TCCH Total</text>
<text x="568.30" y="364.50" transform="rotate(-45 568.30 364.50)">eHealth Literacy Total</text>
<text x="602.35" y="364.50" transform="rotate(-45 602.35 364.50)">Privacy and Security Total</text>
</g>
<rect x="647.8" y="3.5" width="18" height="356.30" fill="url(#cb)"/>
<g font-size="6.9" fill="#262626">
<rect x="663.9" y="25.25" width="1.6" height="0.7" fill="#333" opacity="0.75"/>
<text x="666.9" y="28.00">0.3</text>
<rect x="663.9" y="73.25" width="1.6" height="0.7" fill="#333" opacity="0.75"/>
<text x="666.9" y="76.00">0.2</text>
<rect x="663.9" y="121.25" width="1.6" height="0.7" fill="#333" opacity="0.75"/>
<text x="666.9" y="124.00">0.1</text>
<rect x="663.9" y="169.25" width="1.6" height="0.7" fill="#333" opacity="0.75"/>
<text x="666.9" y="172.00">0.0</text>
<rect x="663.9" y="217.25" width="1.6" height="0.7" fill="#333" opacity="0.75"/>
<text x="667.8" y="220.60">−0.1</text>
<rect x="663.9" y="265.25" width="1.6" height="0.7" fill="#333" opacity="0.75"/>
<text x="667.8" y="268.60">−0.2</text>
<rect x="663.9" y="313.25" width="1.6" height="0.7" fill="#333" opacity="0.75"/>
<text x="667.8" y="316.60">−0.3</text>
</g>
<g fill="none" stroke="#5586c4" stroke-width="2" stroke-linejoin="round" filter="url(#sh)">
<path d="M90.8 3.0 H87.7 V101.5 H90.8 M87.7 52.0 H84"/>
<path d="M90.8 106.1 H87.7 V181.5 H90.8 M87.7 144.0 H84"/>
<path d="M90.8 185.9 H87.7 V261.5 H90.8 M87.7 224.0 H84"/>
<path d="M90.8 266.1 H87.7 V364.7 H90.8 M87.7 315.4 H84"/>
</g>
<rect x="683.3" y="156.0" width="1.7" height="1.2" fill="#cfcfcf"/>
<rect x="683.3" y="163.7" width="1.7" height="1.2" fill="#cfcfcf"/>
<rect x="683.3" y="178.4" width="1.7" height="1.2" fill="#cfcfcf"/>
<g font-size="10.8" font-weight="bold" text-anchor="middle" fill="#000">
<text x="50.8" y="49.9">Traditional</text>
<text x="50.8" y="62.5">Barriers</text>
<text x="50.8" y="134.2">DHT</text>
<text x="50.8" y="147.1">Barriers</text>
<text x="49.7" y="229.2">Traditional</text>
<text x="49.7" y="242.1">Facilitators</text>
<text x="49.7" y="313.8">DHT</text>
<text x="49.7" y="326.6">Facilitators</text>
</g>
<text x="438" y="424" font-size="13.8" font-weight="bold" text-anchor="middle" fill="#000">Quantitative Variables</text>
<text x="10.8" y="173.1" font-size="13.8" font-weight="bold" text-anchor="middle" fill="#000" transform="rotate(-90 10.8 173.1)">Qualitative Themes</text>
</svg>
</body></html>
